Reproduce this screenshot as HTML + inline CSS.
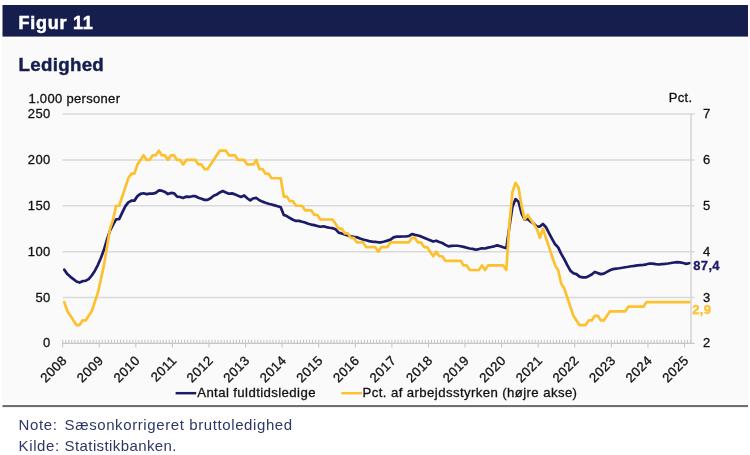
<!DOCTYPE html>
<html><head><meta charset="utf-8"><title>Figur 11</title>
<style>
html,body{margin:0;padding:0;background:#fff;}
body{width:750px;height:455px;position:relative;overflow:hidden;font-family:"Liberation Sans",sans-serif;}
#t1{position:absolute;left:18.6px;top:12.75px;font-size:18px;line-height:20px;font-weight:bold;color:#fff;white-space:nowrap;letter-spacing:0.75px;-webkit-text-stroke:0.5px #fff;}
#t2{position:absolute;left:18.6px;top:53.9px;font-size:18.7px;line-height:21px;font-weight:bold;color:#151e4d;white-space:nowrap;letter-spacing:0.3px;-webkit-text-stroke:0.45px #151e4d;}
.ft{position:absolute;left:18.6px;font-size:15px;line-height:17px;color:#2e3766;white-space:nowrap;letter-spacing:0.6px;}
#wrap{position:absolute;left:0;top:0;width:750px;height:455px;will-change:transform;}
.ft span{position:absolute;left:46px;top:0;}
.ax{font-family:"Liberation Sans",sans-serif;font-size:13.0px;fill:#111;letter-spacing:0.32px;stroke:#111;stroke-width:0.3px;}
.lg{font-family:"Liberation Sans",sans-serif;font-size:13.2px;fill:#111;letter-spacing:0.4px;stroke:#111;stroke-width:0.3px;}
</style></head><body><div id="wrap">
<svg width="750" height="455" viewBox="0 0 750 455" style="position:absolute;left:0;top:0">
<rect x="2.5" y="5" width="745.5" height="31.6" fill="#151e4d"/>
<rect x="1.8" y="38.2" width="746.8" height="365.4" fill="#fafafa"/>
<rect x="2.5" y="405" width="745.5" height="2.1" fill="#6f6f6f"/>
<line x1="62.65" y1="114.00" x2="694.65" y2="114.00" stroke="#d9d9d9" stroke-width="1.5"/>
<line x1="62.65" y1="159.88" x2="694.65" y2="159.88" stroke="#d9d9d9" stroke-width="1.5"/>
<line x1="62.65" y1="205.76" x2="694.65" y2="205.76" stroke="#d9d9d9" stroke-width="1.5"/>
<line x1="62.65" y1="251.64" x2="694.65" y2="251.64" stroke="#d9d9d9" stroke-width="1.5"/>
<line x1="62.65" y1="297.52" x2="694.65" y2="297.52" stroke="#d9d9d9" stroke-width="1.5"/>
<line x1="691.05" y1="113.40" x2="691.05" y2="344.00" stroke="#d9d9d9" stroke-width="1.7"/>
<line x1="62.65" y1="343.40" x2="694.65" y2="343.40" stroke="#c6c6c6" stroke-width="1.2"/>
<path d="M62.65 339.80 V347.60 M65.70 339.80 V343.40 M68.75 339.80 V343.40 M71.80 339.80 V343.40 M74.84 339.80 V343.40 M77.89 339.80 V343.40 M80.94 339.80 V343.40 M83.99 339.80 V343.40 M87.04 339.80 V343.40 M90.09 339.80 V343.40 M93.14 339.80 V343.40 M96.18 339.80 V343.40 M99.23 339.80 V347.60 M102.28 339.80 V343.40 M105.33 339.80 V343.40 M108.38 339.80 V343.40 M111.43 339.80 V343.40 M114.47 339.80 V343.40 M117.52 339.80 V343.40 M120.57 339.80 V343.40 M123.62 339.80 V343.40 M126.67 339.80 V343.40 M129.72 339.80 V343.40 M132.77 339.80 V343.40 M135.81 339.80 V347.60 M138.86 339.80 V343.40 M141.91 339.80 V343.40 M144.96 339.80 V343.40 M148.01 339.80 V343.40 M151.06 339.80 V343.40 M154.11 339.80 V343.40 M157.15 339.80 V343.40 M160.20 339.80 V343.40 M163.25 339.80 V343.40 M166.30 339.80 V343.40 M169.35 339.80 V343.40 M172.40 339.80 V347.60 M175.44 339.80 V343.40 M178.49 339.80 V343.40 M181.54 339.80 V343.40 M184.59 339.80 V343.40 M187.64 339.80 V343.40 M190.69 339.80 V343.40 M193.74 339.80 V343.40 M196.78 339.80 V343.40 M199.83 339.80 V343.40 M202.88 339.80 V343.40 M205.93 339.80 V343.40 M208.98 339.80 V347.60 M212.03 339.80 V343.40 M215.08 339.80 V343.40 M218.12 339.80 V343.40 M221.17 339.80 V343.40 M224.22 339.80 V343.40 M227.27 339.80 V343.40 M230.32 339.80 V343.40 M233.37 339.80 V343.40 M236.41 339.80 V343.40 M239.46 339.80 V343.40 M242.51 339.80 V343.40 M245.56 339.80 V347.60 M248.61 339.80 V343.40 M251.66 339.80 V343.40 M254.71 339.80 V343.40 M257.75 339.80 V343.40 M260.80 339.80 V343.40 M263.85 339.80 V343.40 M266.90 339.80 V343.40 M269.95 339.80 V343.40 M273.00 339.80 V343.40 M276.05 339.80 V343.40 M279.09 339.80 V343.40 M282.14 339.80 V347.60 M285.19 339.80 V343.40 M288.24 339.80 V343.40 M291.29 339.80 V343.40 M294.34 339.80 V343.40 M297.38 339.80 V343.40 M300.43 339.80 V343.40 M303.48 339.80 V343.40 M306.53 339.80 V343.40 M309.58 339.80 V343.40 M312.63 339.80 V343.40 M315.68 339.80 V343.40 M318.72 339.80 V347.60 M321.77 339.80 V343.40 M324.82 339.80 V343.40 M327.87 339.80 V343.40 M330.92 339.80 V343.40 M333.97 339.80 V343.40 M337.01 339.80 V343.40 M340.06 339.80 V343.40 M343.11 339.80 V343.40 M346.16 339.80 V343.40 M349.21 339.80 V343.40 M352.26 339.80 V343.40 M355.31 339.80 V347.60 M358.35 339.80 V343.40 M361.40 339.80 V343.40 M364.45 339.80 V343.40 M367.50 339.80 V343.40 M370.55 339.80 V343.40 M373.60 339.80 V343.40 M376.65 339.80 V343.40 M379.69 339.80 V343.40 M382.74 339.80 V343.40 M385.79 339.80 V343.40 M388.84 339.80 V343.40 M391.89 339.80 V347.60 M394.94 339.80 V343.40 M397.99 339.80 V343.40 M401.03 339.80 V343.40 M404.08 339.80 V343.40 M407.13 339.80 V343.40 M410.18 339.80 V343.40 M413.23 339.80 V343.40 M416.28 339.80 V343.40 M419.32 339.80 V343.40 M422.37 339.80 V343.40 M425.42 339.80 V343.40 M428.47 339.80 V347.60 M431.52 339.80 V343.40 M434.57 339.80 V343.40 M437.62 339.80 V343.40 M440.66 339.80 V343.40 M443.71 339.80 V343.40 M446.76 339.80 V343.40 M449.81 339.80 V343.40 M452.86 339.80 V343.40 M455.91 339.80 V343.40 M458.95 339.80 V343.40 M462.00 339.80 V343.40 M465.05 339.80 V347.60 M468.10 339.80 V343.40 M471.15 339.80 V343.40 M474.20 339.80 V343.40 M477.25 339.80 V343.40 M480.29 339.80 V343.40 M483.34 339.80 V343.40 M486.39 339.80 V343.40 M489.44 339.80 V343.40 M492.49 339.80 V343.40 M495.54 339.80 V343.40 M498.59 339.80 V343.40 M501.63 339.80 V347.60 M504.68 339.80 V343.40 M507.73 339.80 V343.40 M510.78 339.80 V343.40 M513.83 339.80 V343.40 M516.88 339.80 V343.40 M519.93 339.80 V343.40 M522.97 339.80 V343.40 M526.02 339.80 V343.40 M529.07 339.80 V343.40 M532.12 339.80 V343.40 M535.17 339.80 V343.40 M538.22 339.80 V347.60 M541.26 339.80 V343.40 M544.31 339.80 V343.40 M547.36 339.80 V343.40 M550.41 339.80 V343.40 M553.46 339.80 V343.40 M556.51 339.80 V343.40 M559.56 339.80 V343.40 M562.60 339.80 V343.40 M565.65 339.80 V343.40 M568.70 339.80 V343.40 M571.75 339.80 V343.40 M574.80 339.80 V347.60 M577.85 339.80 V343.40 M580.89 339.80 V343.40 M583.94 339.80 V343.40 M586.99 339.80 V343.40 M590.04 339.80 V343.40 M593.09 339.80 V343.40 M596.14 339.80 V343.40 M599.19 339.80 V343.40 M602.23 339.80 V343.40 M605.28 339.80 V343.40 M608.33 339.80 V343.40 M611.38 339.80 V347.60 M614.43 339.80 V343.40 M617.48 339.80 V343.40 M620.53 339.80 V343.40 M623.57 339.80 V343.40 M626.62 339.80 V343.40 M629.67 339.80 V343.40 M632.72 339.80 V343.40 M635.77 339.80 V343.40 M638.82 339.80 V343.40 M641.87 339.80 V343.40 M644.91 339.80 V343.40 M647.96 339.80 V347.60 M651.01 339.80 V343.40 M654.06 339.80 V343.40 M657.11 339.80 V343.40 M660.16 339.80 V343.40 M663.20 339.80 V343.40 M666.25 339.80 V343.40 M669.30 339.80 V343.40 M672.35 339.80 V343.40 M675.40 339.80 V343.40 M678.45 339.80 V343.40 M681.50 339.80 V343.40 M684.54 339.80 V347.60 M687.59 339.80 V343.40 M690.64 339.80 V343.40" stroke="#c8c8c8" stroke-width="1.1" fill="none"/>
<path d="M64.30 269.72 L67.35 274.12 L70.40 276.87 L73.45 279.17 L76.49 281.46 L79.54 282.56 L82.59 281.19 L85.64 280.73 L88.69 279.17 L91.74 275.50 L94.78 270.91 L97.83 265.04 L100.88 258.06 L103.93 249.80 L106.98 239.71 L110.03 230.54 L113.08 224.57 L116.12 219.25 L119.17 219.07 L122.22 212.64 L125.27 206.40 L128.32 202.36 L131.37 200.71 L134.42 200.62 L137.46 196.13 L140.51 193.83 L143.56 193.28 L146.61 194.11 L149.66 193.56 L152.71 193.56 L155.75 192.91 L158.80 190.44 L161.85 190.71 L164.90 191.90 L167.95 194.11 L171.00 192.91 L174.05 193.28 L177.09 196.58 L180.14 197.04 L183.19 197.96 L186.24 196.58 L189.29 196.95 L192.34 196.22 L195.39 196.22 L198.43 197.78 L201.48 198.79 L204.53 199.89 L207.58 199.89 L210.63 198.24 L213.68 195.76 L216.73 194.57 L219.77 192.45 L222.82 191.08 L225.87 192.45 L228.92 193.74 L231.97 193.37 L235.02 194.38 L238.06 195.76 L241.11 196.95 L244.16 195.39 L247.21 198.24 L250.26 200.44 L253.31 198.24 L256.36 197.96 L259.40 200.25 L262.45 201.63 L265.50 202.73 L268.55 203.74 L271.60 204.57 L274.65 205.39 L277.69 206.22 L280.74 207.23 L283.79 214.94 L286.84 216.04 L289.89 218.06 L292.94 219.71 L295.99 220.90 L299.03 220.90 L302.08 221.73 L305.13 222.55 L308.18 223.74 L311.23 224.57 L314.28 225.12 L317.33 225.95 L320.37 226.77 L323.42 226.31 L326.47 227.14 L329.52 227.78 L332.57 228.15 L335.62 229.34 L338.67 232.65 L341.71 233.47 L344.76 234.39 L347.81 235.49 L350.86 236.41 L353.91 236.87 L356.96 237.23 L360.00 238.52 L363.05 239.44 L366.10 240.26 L369.15 241.09 L372.20 241.55 L375.25 241.91 L378.30 242.28 L381.34 242.28 L384.39 241.55 L387.44 240.63 L390.49 239.62 L393.54 237.42 L396.59 236.68 L399.64 236.59 L402.68 236.50 L405.73 236.50 L408.78 236.04 L411.83 234.02 L414.88 234.85 L417.93 235.49 L420.97 236.41 L424.02 237.69 L427.07 239.07 L430.12 240.17 L433.17 241.55 L436.22 240.72 L439.27 241.91 L442.31 243.01 L445.36 244.85 L448.41 246.41 L451.46 245.86 L454.51 245.77 L457.56 245.77 L460.61 246.23 L463.65 246.87 L466.70 247.69 L469.75 248.52 L472.80 248.89 L475.85 249.71 L478.90 249.07 L481.94 248.24 L484.99 248.52 L488.04 247.60 L491.09 246.96 L494.14 246.32 L497.19 245.40 L500.24 246.23 L503.28 247.24 L506.33 248.15 L509.38 226.86 L512.43 206.68 L515.48 199.15 L518.53 201.72 L521.58 213.38 L524.62 219.71 L527.67 218.79 L530.72 221.73 L533.77 223.74 L536.82 226.41 L539.87 226.59 L542.91 223.93 L545.96 227.23 L549.01 233.10 L552.06 238.79 L555.11 244.30 L558.16 247.42 L561.21 253.84 L564.25 259.16 L567.30 265.13 L570.35 270.63 L573.40 273.20 L576.45 274.12 L579.50 276.60 L582.54 277.42 L585.59 277.42 L588.64 276.14 L591.69 274.49 L594.74 271.92 L597.79 273.11 L600.84 274.12 L603.88 273.57 L606.93 271.92 L609.98 270.27 L613.03 269.07 L616.08 268.62 L619.13 268.25 L622.18 267.79 L625.22 267.24 L628.27 266.78 L631.32 266.23 L634.37 265.86 L637.42 265.40 L640.47 265.13 L643.51 264.85 L646.56 264.30 L649.61 263.48 L652.66 263.66 L655.71 264.12 L658.76 264.49 L661.81 264.12 L664.85 263.84 L667.90 263.48 L670.95 263.02 L674.00 262.47 L677.05 262.19 L680.10 262.38 L683.15 263.02 L686.19 263.84 L689.24 263.20" stroke="#1b1b68" stroke-width="2.7" fill="none" stroke-linejoin="round" stroke-linecap="round"/>
<path d="M64.30 302.11 L67.35 311.28 L70.40 315.87 L73.45 320.46 L76.49 325.05 L79.54 325.05 L82.59 320.46 L85.64 320.46 L88.69 315.87 L91.74 311.28 L94.78 302.11 L97.83 292.93 L100.88 279.17 L103.93 265.40 L106.98 247.05 L110.03 228.70 L113.08 219.52 L116.12 205.76 L119.17 205.76 L122.22 196.58 L125.27 187.41 L128.32 178.23 L131.37 173.64 L134.42 173.64 L137.46 164.47 L140.51 159.88 L143.56 155.29 L146.61 159.88 L149.66 159.88 L152.71 155.29 L155.75 155.29 L158.80 150.70 L161.85 155.29 L164.90 155.29 L167.95 159.88 L171.00 155.29 L174.05 155.29 L177.09 159.88 L180.14 159.88 L183.19 164.47 L186.24 159.88 L189.29 159.88 L192.34 159.88 L195.39 159.88 L198.43 164.47 L201.48 164.47 L204.53 169.06 L207.58 169.06 L210.63 164.47 L213.68 159.88 L216.73 155.29 L219.77 150.70 L222.82 150.70 L225.87 150.70 L228.92 155.29 L231.97 155.29 L235.02 155.29 L238.06 159.88 L241.11 159.88 L244.16 159.88 L247.21 164.47 L250.26 164.47 L253.31 164.47 L256.36 159.88 L259.40 169.06 L262.45 169.06 L265.50 173.64 L268.55 173.64 L271.60 178.23 L274.65 178.23 L277.69 178.23 L280.74 178.23 L283.79 196.58 L286.84 196.58 L289.89 201.17 L292.94 201.17 L295.99 205.76 L299.03 205.76 L302.08 205.76 L305.13 210.35 L308.18 210.35 L311.23 210.35 L314.28 214.94 L317.33 214.94 L320.37 219.52 L323.42 219.52 L326.47 219.52 L329.52 219.52 L332.57 219.52 L335.62 224.11 L338.67 228.70 L341.71 228.70 L344.76 233.29 L347.81 233.29 L350.86 237.88 L353.91 237.88 L356.96 242.46 L360.00 242.46 L363.05 242.46 L366.10 247.05 L369.15 247.05 L372.20 247.05 L375.25 247.05 L378.30 251.64 L381.34 247.05 L384.39 247.05 L387.44 247.05 L390.49 242.46 L393.54 242.46 L396.59 242.46 L399.64 242.46 L402.68 242.46 L405.73 242.46 L408.78 242.46 L411.83 237.88 L414.88 237.88 L417.93 242.46 L420.97 242.46 L424.02 247.05 L427.07 247.05 L430.12 251.64 L433.17 256.23 L436.22 251.64 L439.27 256.23 L442.31 256.23 L445.36 260.82 L448.41 260.82 L451.46 260.82 L454.51 260.82 L457.56 260.82 L460.61 260.82 L463.65 265.40 L466.70 265.40 L469.75 269.99 L472.80 269.99 L475.85 269.99 L478.90 269.99 L481.94 265.40 L484.99 269.99 L488.04 265.40 L491.09 265.40 L494.14 265.40 L497.19 265.40 L500.24 265.40 L503.28 265.40 L506.33 269.99 L509.38 224.11 L512.43 192.00 L515.48 182.82 L518.53 187.41 L521.58 205.76 L524.62 219.52 L527.67 214.94 L530.72 219.52 L533.77 224.11 L536.82 228.70 L539.87 237.88 L542.91 228.70 L545.96 237.88 L549.01 247.05 L552.06 256.23 L555.11 265.40 L558.16 269.99 L561.21 283.76 L564.25 288.34 L567.30 297.52 L570.35 306.70 L573.40 315.87 L576.45 320.46 L579.50 325.05 L582.54 325.05 L585.59 325.05 L588.64 320.46 L591.69 320.46 L594.74 315.87 L597.79 315.87 L600.84 320.46 L603.88 320.46 L606.93 315.87 L609.98 311.28 L613.03 311.28 L616.08 311.28 L619.13 311.28 L622.18 311.28 L625.22 311.28 L628.27 306.70 L631.32 306.70 L634.37 306.70 L637.42 306.70 L640.47 306.70 L643.51 306.70 L646.56 302.11 L649.61 302.11 L652.66 302.11 L655.71 302.11 L658.76 302.11 L661.81 302.11 L664.85 302.11 L667.90 302.11 L670.95 302.11 L674.00 302.11 L677.05 302.11 L680.10 302.11 L683.15 302.11 L686.19 302.11 L689.24 302.11" stroke="#fdc02f" stroke-width="2.7" fill="none" stroke-linejoin="round" stroke-linecap="round"/>
<line x1="175.6" y1="393.2" x2="196.2" y2="393.2" stroke="#1b1b68" stroke-width="2.5"/>
<line x1="341.3" y1="393.2" x2="362" y2="393.2" stroke="#fdc02f" stroke-width="2.5"/>
<text x="67.65" y="361.30" text-anchor="end" transform="rotate(-45 67.65 361.30)" class="lg">2008</text>
<text x="104.23" y="361.30" text-anchor="end" transform="rotate(-45 104.23 361.30)" class="lg">2009</text>
<text x="140.81" y="361.30" text-anchor="end" transform="rotate(-45 140.81 361.30)" class="lg">2010</text>
<text x="177.40" y="361.30" text-anchor="end" transform="rotate(-45 177.40 361.30)" class="lg">2011</text>
<text x="213.98" y="361.30" text-anchor="end" transform="rotate(-45 213.98 361.30)" class="lg">2012</text>
<text x="250.56" y="361.30" text-anchor="end" transform="rotate(-45 250.56 361.30)" class="lg">2013</text>
<text x="287.14" y="361.30" text-anchor="end" transform="rotate(-45 287.14 361.30)" class="lg">2014</text>
<text x="323.72" y="361.30" text-anchor="end" transform="rotate(-45 323.72 361.30)" class="lg">2015</text>
<text x="360.31" y="361.30" text-anchor="end" transform="rotate(-45 360.31 361.30)" class="lg">2016</text>
<text x="396.89" y="361.30" text-anchor="end" transform="rotate(-45 396.89 361.30)" class="lg">2017</text>
<text x="433.47" y="361.30" text-anchor="end" transform="rotate(-45 433.47 361.30)" class="lg">2018</text>
<text x="470.05" y="361.30" text-anchor="end" transform="rotate(-45 470.05 361.30)" class="lg">2019</text>
<text x="506.63" y="361.30" text-anchor="end" transform="rotate(-45 506.63 361.30)" class="lg">2020</text>
<text x="543.22" y="361.30" text-anchor="end" transform="rotate(-45 543.22 361.30)" class="lg">2021</text>
<text x="579.80" y="361.30" text-anchor="end" transform="rotate(-45 579.80 361.30)" class="lg">2022</text>
<text x="616.38" y="361.30" text-anchor="end" transform="rotate(-45 616.38 361.30)" class="lg">2023</text>
<text x="652.96" y="361.30" text-anchor="end" transform="rotate(-45 652.96 361.30)" class="lg">2024</text>
<text x="689.54" y="361.30" text-anchor="end" transform="rotate(-45 689.54 361.30)" class="lg">2025</text>
<text x="50.5" y="118.00" text-anchor="end" class="ax">250</text>
<text x="50.5" y="163.88" text-anchor="end" class="ax">200</text>
<text x="50.5" y="209.76" text-anchor="end" class="ax">150</text>
<text x="50.5" y="255.64" text-anchor="end" class="ax">100</text>
<text x="50.5" y="301.52" text-anchor="end" class="ax">50</text>
<text x="50.5" y="347.40" text-anchor="end" class="ax">0</text>
<text x="703" y="118.00" class="ax">7</text>
<text x="703" y="163.88" class="ax">6</text>
<text x="703" y="209.76" class="ax">5</text>
<text x="703" y="255.64" class="ax">4</text>
<text x="703" y="301.52" class="ax">3</text>
<text x="703" y="347.40" class="ax">2</text>
<text x="28.4" y="102.8" class="ax">1.000 personer</text>
<text x="668.7" y="101.5" class="ax">Pct.</text>
<text x="197.2" y="397.3" class="lg">Antal fuldtidsledige</text>
<text x="362.6" y="397.3" class="lg">Pct. af arbejdsstyrken (højre akse)</text>
<text x="693.3" y="270.2" class="ax" style="font-weight:bold;fill:#1b1b68;stroke:#1b1b68">87,4</text>
<text x="692.2" y="314.2" class="ax" style="font-weight:bold;fill:#fdc02f;stroke:#fdc02f">2,9</text>
</svg>
<div id="t1">Figur 11</div>
<div id="t2">Ledighed</div>
<div class="ft" style="top:415.5px">Note:<span>Sæsonkorrigeret bruttoledighed</span></div>
<div class="ft" style="top:436.5px">Kilde:<span style="letter-spacing:0.4px">Statistikbanken.</span></div>
</div></body></html>
